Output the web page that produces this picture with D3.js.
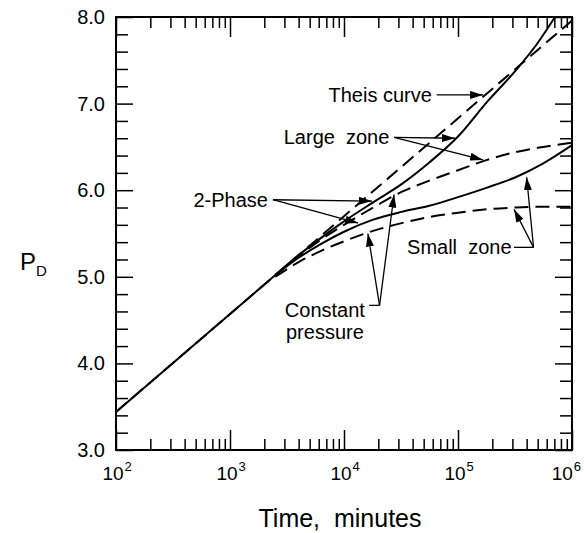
<!DOCTYPE html>
<html>
<head>
<meta charset="utf-8">
<script src="https://cdnjs.cloudflare.com/ajax/libs/d3/7.8.5/d3.min.js"></script>
<style>
  body { margin: 0; background: #fff; }
  svg { display: block; font-family: "Liberation Sans", Arial, Helvetica, sans-serif; }
  .frame { fill: none; stroke: #000; stroke-width: 2; }
  .tick line { stroke: #000; stroke-width: 1.5; }
  .domain { display: none; }
  .curve { fill: none; stroke: #000; stroke-width: 2; }
  .dashed { stroke-dasharray: 14 7; }
  .note { fill: none; stroke: #000; stroke-width: 1.3; }
</style>
</head>
<body>
<div id="chart"></div>
<script>
'use strict'

// time in minutes, dimensionless pressure P_D
const earlyTimes = [100, 1000, 2500]
const earlyPD = [3.44, 4.57, 5.02]

const theisTimes = [100, 1e4, 1e6]
const theisPD = [3.44, 5.70, 7.96]

const times = [2500, 4000, 6300, 1e4, 1.8e4, 3.2e4, 5.6e4, 1e5, 1.8e5, 3.2e5, 5.6e5, 1e6]
const largeConstPD = [5.02, 5.24, 5.43, 5.60, 5.80, 5.98, 6.11, 6.23, 6.35, 6.44, 6.50, 6.55]
const smallTwoPhasePD = [5.02, 5.22, 5.38, 5.52, 5.66, 5.75, 5.82, 5.92, 6.03, 6.15, 6.31, 6.52]
const smallConstPD = [5.00, 5.17, 5.30, 5.41, 5.53, 5.62, 5.69, 5.74, 5.78, 5.80, 5.81, 5.81]

const largeTwoPhaseTimes = [2500, 4000, 6300, 1e4, 1.8e4, 3.2e4, 5.6e4, 1e5, 1.8e5, 3.2e5, 5.0e5, 7.1e5]
const largeTwoPhasePD = [5.02, 5.25, 5.45, 5.64, 5.86, 6.07, 6.32, 6.62, 7.02, 7.38, 7.70, 8.00]

const xMajor = [1e2, 1e3, 1e4, 1e5, 1e6]
const yMajor = [3, 4, 5, 6, 7, 8]

// callouts: label position, where the leader starts, arrow tips (all in data units)
const theisNote = { lines: ["Theis curve"], at: [5.9e4, 7.10], anchor: "end",
  from: [6.5e4, 7.10], tips: [[1.66e5, 7.10]] }
const largeNote = { lines: ["Large  zone"], at: [2.5e4, 6.61], anchor: "end",
  from: [2.75e4, 6.61], tips: [[9.4e4, 6.60], [1.66e5, 6.35]] }
const phaseNote = { lines: ["2-Phase"], at: [2150, 5.89], anchor: "end",
  from: [2380, 5.89], tips: [[1.76e4, 5.875], [1.33e4, 5.62]] }
const smallNote = { lines: ["Small  zone"], at: [2.95e5, 5.34], anchor: "end",
  via: [3.1e5, 5.34], from: [4.6e5, 5.34], tips: [[4.0e5, 6.15], [3.1e5, 5.78]] }
const constNote = { lines: ["Constant", "pressure"], at: [6800, 4.62], anchor: "middle",
  via: [1.66e4, 4.67], from: [2.05e4, 4.67], tips: [[1.62e4, 5.50], [2.75e4, 5.95]] }

const W = 584, H = 533
const margin = { left: 116, right: 12, top: 17, bottom: 83 }

const svg = d3.select("#chart").append("svg")
  .attr("width", W).attr("height", H)
  .attr("viewBox", `0 0 ${W} ${H}`)

svg.append("defs").append("marker")
    .attr("id", "head")
    .attr("viewBox", "0 0 13 8")
    .attr("refX", 13).attr("refY", 4)
    .attr("markerWidth", 13).attr("markerHeight", 8)
    .attr("markerUnits", "userSpaceOnUse")
    .attr("orient", "auto")
  .append("path")
    .attr("d", "M0,0L13,4L0,8Z")
    .attr("fill", "#000")

const x = d3.scaleLog().domain([1e2, 1e6]).range([margin.left, W - margin.right])
const y = d3.scaleLinear().domain([3, 8]).range([H - margin.bottom, margin.top])

const xMinor = x.ticks().filter(d => !xMajor.includes(d))
const yMinor = d3.range(3, 8.001, 0.2).filter(d => Math.abs(d - Math.round(d)) > 0.01)

const g = svg.append("g")
const plotBottom = H - margin.bottom, plotTop = margin.top
const plotLeft = margin.left, plotRight = W - margin.right

// ticks point inward on all four sides
g.append("g").attr("transform", `translate(0,${plotBottom})`)
  .call(d3.axisBottom(x).tickValues(xMinor).tickSize(-11).tickFormat(""))
g.append("g").attr("transform", `translate(0,${plotBottom})`)
  .call(d3.axisBottom(x).tickValues(xMajor).tickSize(-20).tickFormat(""))
g.append("g").attr("transform", `translate(0,${plotTop})`)
  .call(d3.axisTop(x).tickValues(xMinor).tickSize(-11).tickFormat(""))
g.append("g").attr("transform", `translate(0,${plotTop})`)
  .call(d3.axisTop(x).tickValues(xMajor).tickSize(-20).tickFormat(""))

g.append("g").attr("transform", `translate(${plotLeft},0)`)
  .call(d3.axisLeft(y).tickValues(yMinor).tickSize(-12).tickFormat(""))
const yAxis = g.append("g").attr("transform", `translate(${plotLeft},0)`)
  .call(d3.axisLeft(y).tickValues(yMajor).tickSize(-17).tickPadding(11).tickFormat(d3.format(".1f")))
yAxis.selectAll("text").attr("font-size", 20).attr("font-family", null).attr("fill", "#000")
g.append("g").attr("transform", `translate(${plotRight},0)`)
  .call(d3.axisRight(y).tickValues(yMinor).tickSize(-12).tickFormat(""))
g.append("g").attr("transform", `translate(${plotRight},0)`)
  .call(d3.axisRight(y).tickValues(yMajor).tickSize(-17).tickFormat(""))

g.append("rect").attr("class", "frame")
  .attr("x", plotLeft).attr("y", plotTop)
  .attr("width", plotRight - plotLeft).attr("height", plotBottom - plotTop)

// decade labels: "10" roughly centred on the tick, exponent raised to its right
xMajor.forEach(d => {
  const base = g.append("text")
    .attr("y", plotBottom + 30)
    .attr("font-size", 19).attr("text-anchor", "middle")
    .text("10")
  const exp = g.append("text")
    .attr("y", plotBottom + 21)
    .attr("font-size", 13)
    .text(Math.round(Math.log10(d)))
  const w = base.node().getComputedTextLength()
  const ew = exp.node().getComputedTextLength()
  const cx = Math.min(x(d) - 3, W - 3 - ew - 1 - w / 2)
  base.attr("x", cx)
  exp.attr("x", cx + w / 2 + 1)
})

svg.append("text")
  .attr("x", 340).attr("y", H - 6)
  .attr("font-size", 25).attr("text-anchor", "middle")
  .attr("style", "white-space:pre")
  .text("Time,  minutes")

const pd = svg.append("text").attr("x", 20).attr("y", 270).attr("font-size", 24)
pd.append("tspan").text("P")
pd.append("tspan").attr("font-size", 15).attr("dy", 6).text("D")

const line = d3.line()
  .x(d => x(d[0])).y(d => y(d[1]))
  .curve(d3.curveMonotoneX)

const zip = (ts, vs) => ts.map((t, i) => [t, vs[i]])

const curves = g.append("g")
curves.append("path").attr("class", "curve").attr("d", line(zip(earlyTimes, earlyPD)))
curves.append("path").attr("class", "curve dashed").attr("d", line(zip(theisTimes, theisPD)))
curves.append("path").attr("class", "curve").attr("d", line(zip(largeTwoPhaseTimes, largeTwoPhasePD)))
curves.append("path").attr("class", "curve dashed").attr("d", line(zip(times, largeConstPD)))
curves.append("path").attr("class", "curve").attr("d", line(zip(times, smallTwoPhasePD)))
curves.append("path").attr("class", "curve dashed").attr("d", line(zip(times, smallConstPD)))

const px = p => [x(p[0]), y(p[1])]

function drawNote(n) {
  const [tx, ty] = px(n.at)
  const t = g.append("text")
    .attr("x", tx).attr("y", ty + 7)
    .attr("font-size", 20).attr("text-anchor", n.anchor)
    .attr("style", "white-space:pre")
  n.lines.forEach((s, i) => {
    t.append("tspan").attr("x", tx).attr("dy", i ? 22 : 0).text(s)
  })
  const o = px(n.from)
  if (n.via) {
    const v = px(n.via)
    g.append("line").attr("class", "note")
      .attr("x1", v[0]).attr("y1", v[1]).attr("x2", o[0]).attr("y2", o[1])
  }
  n.tips.forEach(tp => {
    const p = px(tp)
    g.append("line").attr("class", "note")
      .attr("x1", o[0]).attr("y1", o[1]).attr("x2", p[0]).attr("y2", p[1])
      .attr("marker-end", "url(#head)")
  })
}

;[theisNote, largeNote, phaseNote, smallNote, constNote].forEach(drawNote)
</script>
</body>
</html>
